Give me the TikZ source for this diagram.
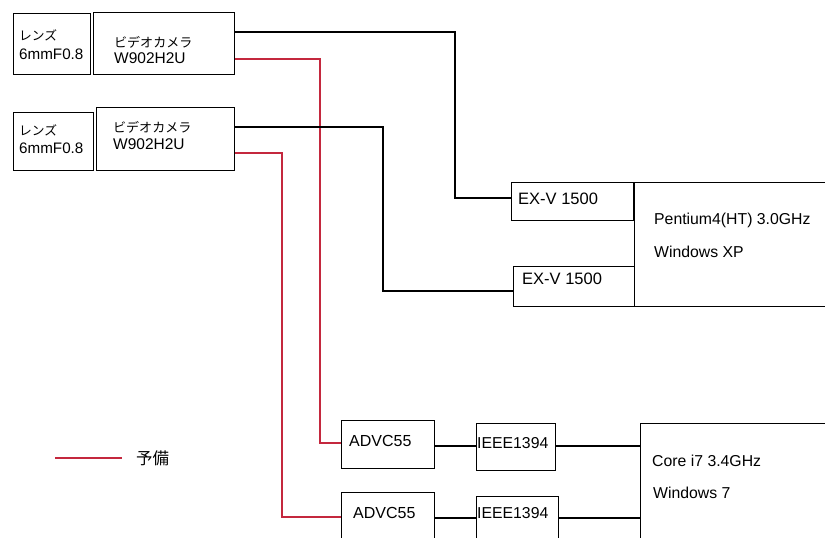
\documentclass[tikz,border=0pt]{standalone}
\usepackage{fontspec}
\setmainfont{Liberation Sans}
\newfontfamily\jp[Scale=0.84]{Noto Sans CJK JP}
\definecolor{spare}{RGB}{196,40,62}
\begin{document}
\begin{tikzpicture}[x=1pt,y=-1pt,
  box/.style={draw, line width=1.2pt, inner sep=0pt, anchor=north west},
  lbl/.style={anchor=west, inner sep=0pt, align=left, font=\fontsize{15.8}{18}\selectfont},
  wire/.style={line width=1.2pt},
  sparewire/.style={line width=1.2pt, draw=spare}]
\clip (0,0) rectangle (825,538);
\fill[white] (0,0) rectangle (825,538);
% boxes
\node[box, minimum width=77, minimum height=61] (lens1) at (13,13) {};
\node[box, minimum width=141, minimum height=62] (cam1) at (93,12) {};
\node[box, minimum width=80, minimum height=58] (lens2) at (13,112) {};
\node[box, minimum width=138, minimum height=63] (cam2) at (96,107) {};
\node[box, minimum width=122, minimum height=38] (exv1) at (511,182) {};
\node[box, minimum width=121, minimum height=40] (exv2) at (513,266) {};
\node[box, minimum width=200, minimum height=124] (pc1) at (634,182) {};
\node[box, minimum width=93, minimum height=48] (adv1) at (341,420) {};
\node[box, minimum width=93, minimum height=55] (adv2) at (341,492) {};
\node[box, minimum width=79, minimum height=47] (ieee1) at (476,423) {};
\node[box, minimum width=82, minimum height=50] (ieee2) at (476,496) {};
\node[box, minimum width=200, minimum height=130] (pc2) at (640,423) {};
% texts
\node[lbl, font=\fontsize{15.2}{19}\selectfont] (lens1t) at (19,45) {{\jp レンズ}\\6mmF0.8};
\node[lbl, font=\fontsize{15.5}{16.5}\selectfont] (cam1t) at (114,50) {{\jp ビデオカメラ}\\W902H2U};
\node[lbl, font=\fontsize{15.2}{18}\selectfont] (lens2t) at (19,139) {{\jp レンズ}\\6mmF0.8};
\node[lbl, font=\fontsize{15.5}{17}\selectfont] (cam2t) at (113,135.5) {{\jp ビデオカメラ}\\W902H2U};
\node[lbl, font=\fontsize{16.5}{18}\selectfont] (exv1t) at (518,199) {EX-V 1500};
\node[lbl, font=\fontsize{16.5}{18}\selectfont] (exv2t) at (522,279) {EX-V 1500};
\node[lbl] (pc1a) at (654,220) {Pentium4(HT) 3.0GHz};
\node[lbl] (pc1b) at (654,252) {Windows XP};
\node[lbl, font=\fontsize{16}{18}\selectfont] (adv1t) at (349,441) {ADVC55};
\node[lbl, font=\fontsize{16}{18}\selectfont] (adv2t) at (353,513) {ADVC55};
\node[lbl] (ieee1t) at (477,443) {IEEE1394};
\node[lbl] (ieee2t) at (477,513) {IEEE1394};
\node[lbl] (pc2a) at (652,461) {Core i7 3.4GHz};
\node[lbl] (pc2b) at (653,493) {Windows 7};
% wires
\draw[wire] (cam1.east |- 0,32) -| (455,198) -- (exv1.west |- 0,198);
\draw[sparewire] (cam1.east |- 0,59) -| (320,443) -- (adv1.west |- 0,443);
\draw[wire] (cam2.east |- 0,127) -| (383,291) -- (exv2.west |- 0,291);
\draw[sparewire] (cam2.east |- 0,153) -| (282,517) -- (adv2.west |- 0,517);
\draw[wire] (adv1.east |- 0,446) -- (ieee1.west |- 0,446);
\draw[wire] (ieee1.east |- 0,446) -- (pc2.west |- 0,446);
\draw[wire] (adv2.east |- 0,518) -- (ieee2.west |- 0,518);
\draw[wire] (ieee2.east |- 0,518) -- (pc2.west |- 0,518);
% legend
\coordinate (lg1) at (55,458);
\coordinate (lg2) at (122,458);
\draw[sparewire] (lg1) -- (lg2);
\node[lbl, font=\fontsize{19.6}{20}\selectfont] (legt) at (136,458.5) {\jp 予備};
\end{tikzpicture}
\end{document}
